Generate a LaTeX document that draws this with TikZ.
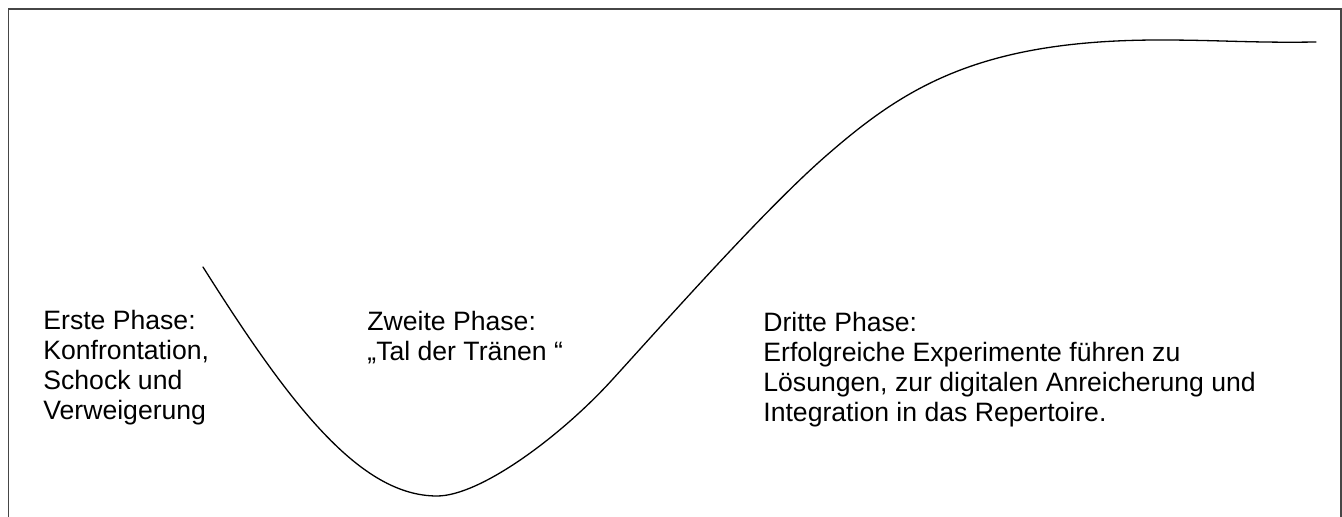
\documentclass[tikz,border=0pt]{standalone}
\usepackage{fontspec}
\setmainfont{Liberation Sans}
\definecolor{framegray}{RGB}{70,70,70}
\begin{document}
\begin{tikzpicture}[x=0.5pt,y=-0.5pt,
  phasetext/.style={anchor=base west,inner sep=0pt,align=left,
    font=\fontsize{13.3}{15}\selectfont},
  curveline/.style={line width=0.65pt,black,line cap=round},
  frameline/.style={line width=0.8pt,framegray}]
\useasboundingbox (0,0) rectangle (1342,517);
\draw[frameline] (8.5,520) -- (8.5,9) -- (1341,9) -- (1341,520);
\draw[curveline] (203,267)
  .. controls (290,405) and (360,496) .. (437,496)
  .. controls (480,496) and (560,437) .. (612,380)
  .. controls (672,314) and (767,207) .. (827,155)
  .. controls (905,87) and (980,40) .. (1160,40)
  .. controls (1220,40) and (1250,43) .. (1316,42);
\node[phasetext] (erste) at (43,420) {Erste Phase:\\Konfrontation,\\Schock und\\Verweigerung};
\node[phasetext] (zweite) at (367,361) {Zweite Phase:\\„Tal der Tränen “};
\node[phasetext] (dritte) at (763,422) {Dritte Phase:\\Erfolgreiche Experimente führen zu\\Lösungen, zur digitalen Anreicherung und\\Integration in das Repertoire.};
\end{tikzpicture}
\end{document}
